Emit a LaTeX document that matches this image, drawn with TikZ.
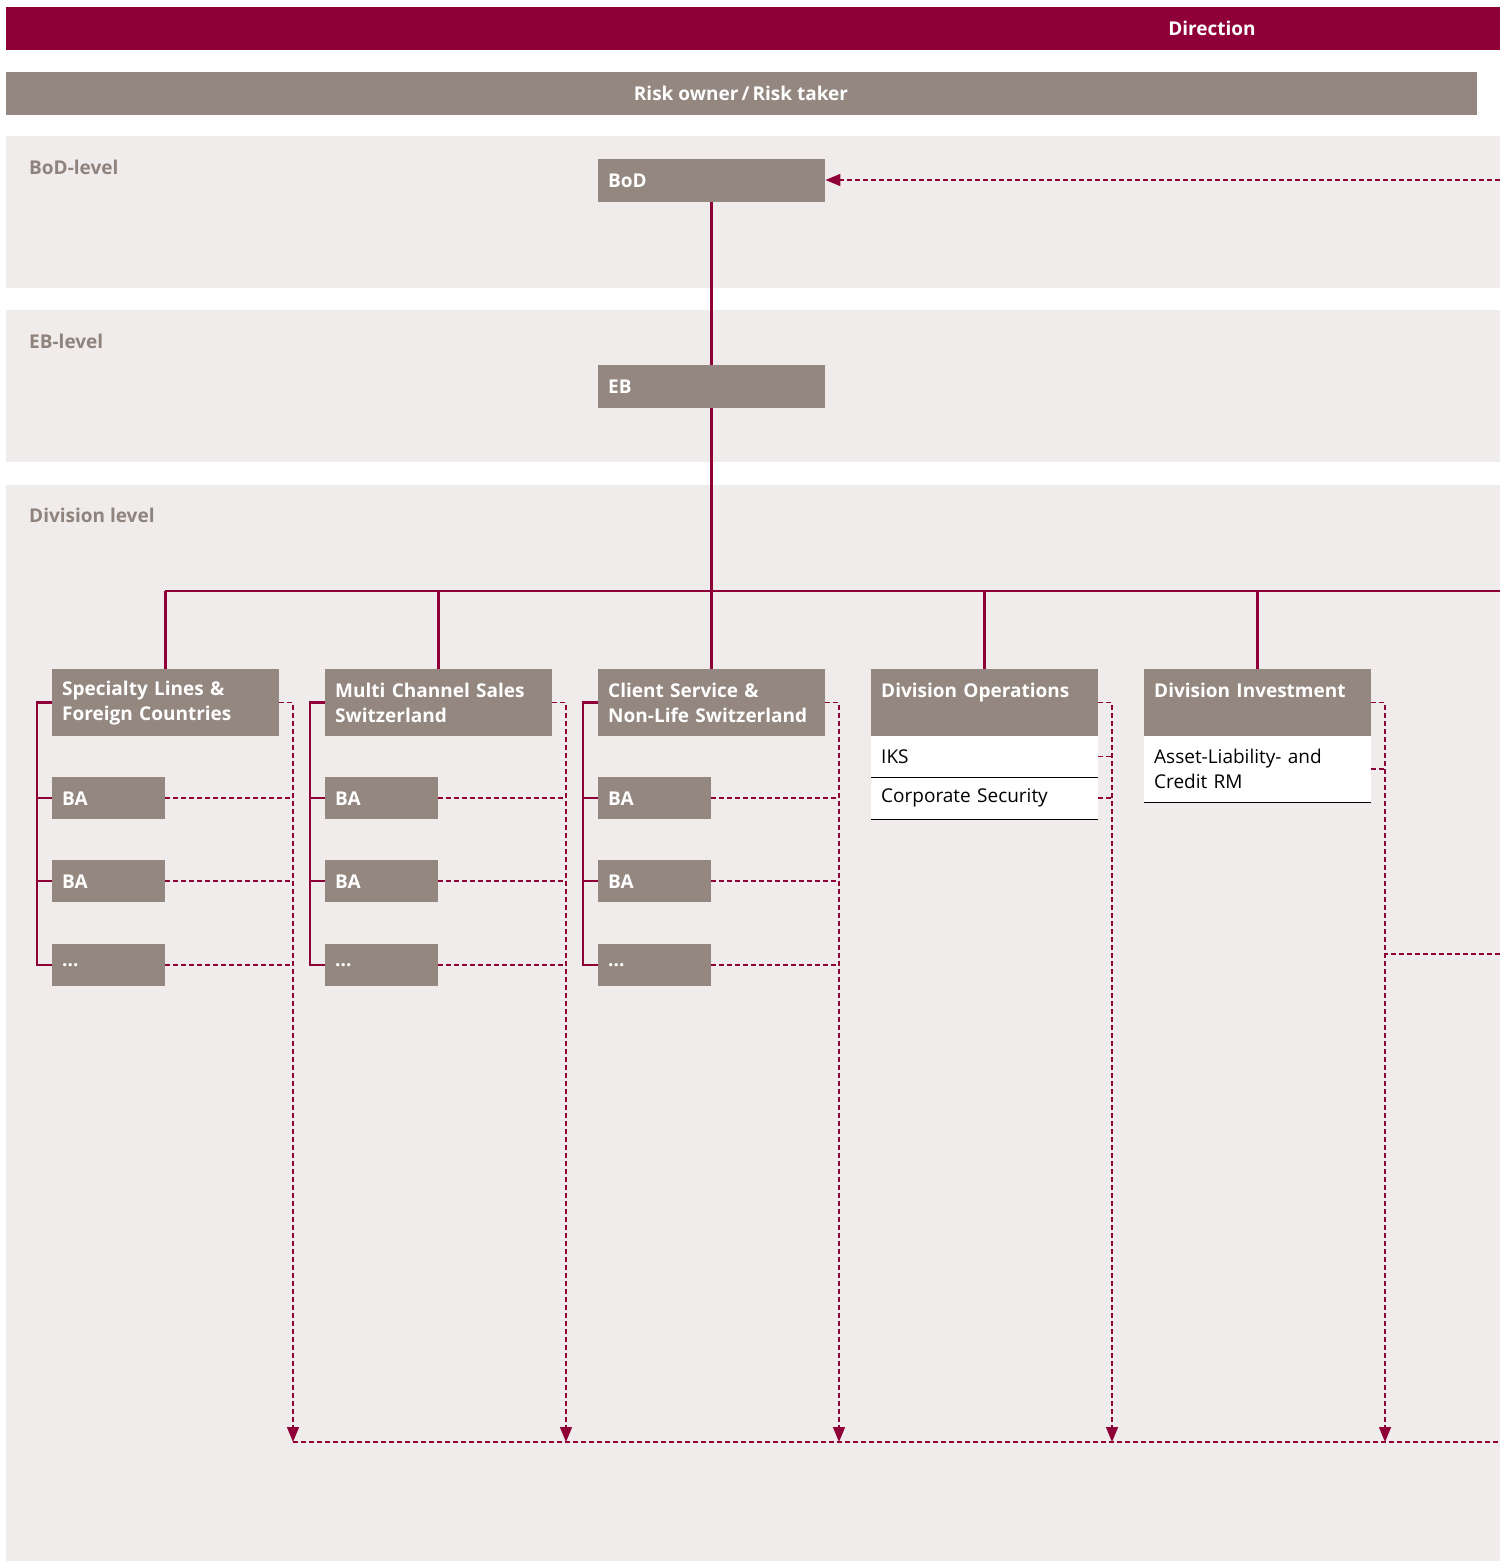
\documentclass[tikz,border=0pt]{standalone}
\usepackage{fontspec}
\setmainfont{Open Sans}
\usetikzlibrary{arrows.meta}

\definecolor{crimson}{RGB}{144,0,56}
\definecolor{taupe}{RGB}{147,135,128}
\definecolor{bandgray}{RGB}{240,236,235}
\definecolor{labelgray}{RGB}{143,131,125}

\def\boxFont{\bfseries\fontsize{19}{25}\selectfont}
\def\rowFont{\fontsize{19}{25}\selectfont}

\tikzset{
    unitbox/.style = {fill=taupe, text=white, font=\boxFont, anchor=north west,
        inner xsep=10pt, inner ysep=0pt, align=left, text width=#1},
    divbox/.style = {unitbox=207pt, minimum height=67pt},
    babox/.style = {unitbox=93pt, minimum height=42pt},
    rowbox/.style = {fill=white, text=black, font=\rowFont, anchor=north west,
        inner xsep=10pt, inner ysep=0pt, align=left, text width=207pt},
    barlabel/.style = {text=white, font=\boxFont},
    levellabel/.style = {text=labelgray, font=\boxFont, anchor=base west, inner sep=0pt},
    solidline/.style = {crimson, line width=2.5pt},
    dashline/.style = {crimson, line width=1.5pt, dash pattern=on 5pt off 3pt},
    droparrow/.style = {dashline, -{Triangle[width=12pt,length=15pt]}},
}

\begin{document}
\begin{tikzpicture}[x=1pt, y=-1pt]
    \useasboundingbox (0,0) rectangle (1500,1561);

    % header bars
    \fill[crimson] (6,7) rectangle (1500,50);
    \node[barlabel] at (1212,28) {Direction};
    \fill[taupe] (6,72) rectangle (1477,115);
    \node[barlabel] at (741,93) {Risk owner\,/\,Risk taker};

    % level bands
    \fill[bandgray] (6,136) rectangle (1500,288);
    \fill[bandgray] (6,310) rectangle (1500,462);
    \fill[bandgray] (6,485) rectangle (1500,1561);
    \node[levellabel] at (29,174) {BoD-level};
    \node[levellabel] at (29,348) {EB-level};
    \node[levellabel] at (29,522) {Division level};

    % top of the tree
    \node[divbox, minimum height=43pt] (bod) at (598,159) {BoD};
    \node[divbox, minimum height=43pt] (eb) at (598,365) {EB};
    \coordinate (feedIn) at (1500,180);
    \draw[dashline, -{Triangle[width=12pt,length=15pt]}] (feedIn) -- (feedIn -| bod.east);

    \coordinate (busL) at (165,591);
    \coordinate (busR) at (1500,591);
    \coordinate (bottomR) at (1500,1442);

    % divisions with business areas
    \foreach \name/\x/\txt in {SL/52/{Specialty Lines \&\\Foreign Countries},
                               MC/325/{Multi Channel Sales\\Switzerland},
                               CS/598/{Client Service \&\\Non-Life Switzerland}} {
        \node[divbox] (div\name) at (\x,669) {\txt};
        \node[babox] (ba\name1) at (\x,777) {BA};
        \node[babox] (ba\name2) at (\x,860) {BA};
        \node[babox] (ba\name3) at (\x,944) {...};
        \coordinate (drop\name) at (\x+241,1442);
        \draw[solidline] (div\name.west) -- ++(-15,0) |- (ba\name3.west);
        \draw[solidline] (ba\name1.west) -- ++(-15,0);
        \draw[solidline] (ba\name2.west) -- ++(-15,0);
        \draw[droparrow] (div\name.east) -| (drop\name);
        \foreach \i in {1,2,3} {
            \draw[dashline] (ba\name\i.east) -- (ba\name\i.east -| drop\name);
        }
        \draw[solidline] (div\name.north) -- (div\name.north |- busL);
    }

    % operations and investment
    \node[divbox] (divOP) at (871,669) {Division Operations\\\mbox{}};
    \node[rowbox, minimum height=41pt] (iks) at (871,736) {IKS};
    \node[rowbox, minimum height=42pt] (corpSec) at (871,777) {Corporate Security};
    \draw[line width=1.2pt] (iks.south west) -- (iks.south east);
    \draw[line width=1.2pt] (corpSec.south west) -- (corpSec.south east);

    \node[divbox] (divIN) at (1144,669) {Division Investment\\\mbox{}};
    \node[rowbox, minimum height=66pt] (almRM) at (1144,736) {Asset-Liability- and\\Credit RM};
    \draw[line width=1.2pt] (almRM.south west) -- (almRM.south east);

    \coordinate (dropOP) at (1112,1442);
    \coordinate (dropIN) at (1385,1442);
    \coordinate (invOut) at (1500,954);
    \draw[droparrow] (divOP.east) -| (dropOP);
    \draw[dashline] (iks.east) -- (iks.east -| dropOP);
    \draw[dashline] (corpSec.east) -- (corpSec.east -| dropOP);
    \draw[droparrow] (divIN.east) -| (dropIN);
    \draw[dashline] (almRM.east) -- (almRM.east -| dropIN);
    \draw[dashline] (invOut) -- (invOut -| dropIN);
    \draw[solidline] (divOP.north) -- (divOP.north |- busL);
    \draw[solidline] (divIN.north) -- (divIN.north |- busL);

    % main spine and bus
    \draw[solidline] (bod) -- (eb);
    \draw[solidline] (eb.south) -- (busL -| eb.south);
    \draw[solidline] (busL) -- (busR);

    % common bottom line
    \draw[dashline] (dropSL) -- (bottomR);
\end{tikzpicture}
\end{document}
